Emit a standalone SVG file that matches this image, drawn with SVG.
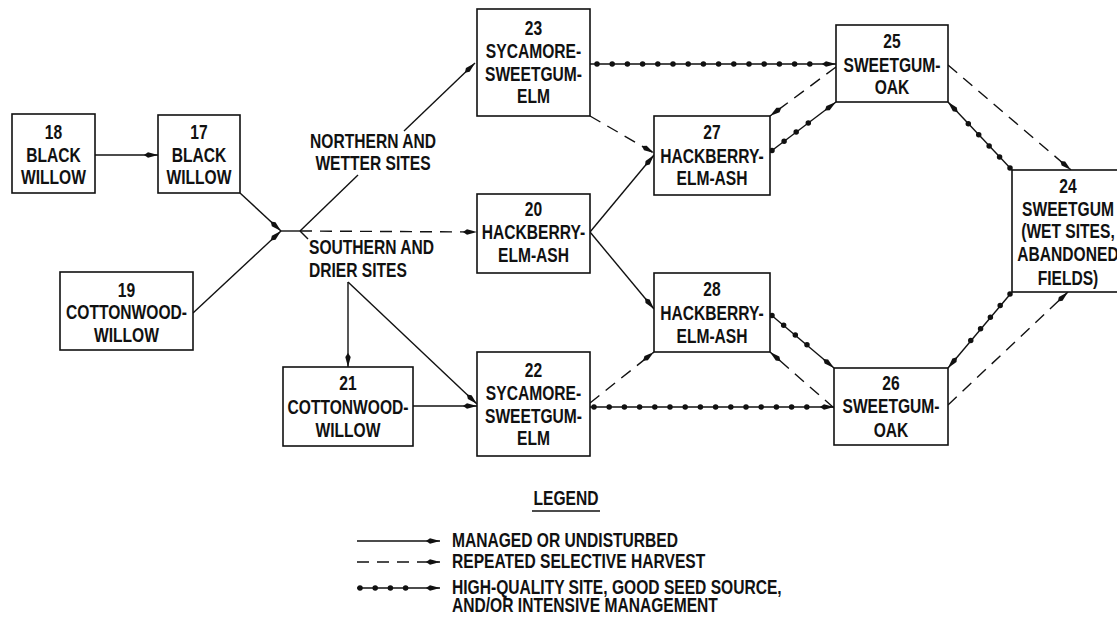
<svg xmlns="http://www.w3.org/2000/svg" width="1117" height="637" viewBox="0 0 1117 637">
<style>
.box{fill:#fff;stroke:#111;stroke-width:1.6}
.t{font-family:"Liberation Sans",Arial,sans-serif;font-weight:bold;font-size:20px;text-anchor:middle;fill:#111}
.l{text-anchor:start}
.ln{stroke:#111;stroke-width:1.4;fill:none}
.da{stroke-dasharray:12 8}
.dots{stroke:#111;stroke-width:5.5;stroke-linecap:round;stroke-dasharray:0 15.2;fill:none}
</style>
<defs>
<marker id="ah" markerWidth="15" markerHeight="8" refX="14" refY="4" orient="auto" markerUnits="userSpaceOnUse">
<path d="M0,4 L4,1.3 L14,4 L4,6.7 Z" fill="#111"/>
</marker>
</defs>
<rect width="1117" height="637" fill="#fff"/>
<g id="connectors">
<path class="ln" d="M95,155 H158" marker-end="url(#ah)"/>
<path class="ln" d="M240,193 L281,231" marker-end="url(#ah)"/>
<path class="ln" d="M193,313 L281,231" marker-end="url(#ah)"/>
<path class="ln" d="M281,231 H300"/>
<path class="ln da" d="M300,231 L477,232" marker-end="url(#ah)"/>
<path class="ln" d="M300,231 L358,175"/>
<path class="ln" d="M404,131 L475,63" marker-end="url(#ah)"/>
<path class="ln" d="M300,231 L308,239"/>
<path class="ln" d="M348,282 V367" marker-end="url(#ah)"/>
<path class="ln" d="M348,282 L477,404" marker-end="url(#ah)"/>
<path class="ln" d="M413,406 H477" marker-end="url(#ah)"/>
<path class="ln" d="M590,232 L654,155" marker-end="url(#ah)"/>
<path class="ln" d="M590,232 L654,309" marker-end="url(#ah)"/>
<path class="ln da" d="M590,116 L654,153" marker-end="url(#ah)"/>
<path class="ln da" d="M836,67 L770,116" marker-end="url(#ah)"/>
<path class="ln da" d="M948,65 L1071,170" marker-end="url(#ah)"/>
<path class="ln da" d="M590,403 L654,352" marker-end="url(#ah)"/>
<path class="ln da" d="M834,408 L770,352" marker-end="url(#ah)"/>
<path class="ln da" d="M948,405 L1068,292" marker-end="url(#ah)"/>
<path class="ln" d="M590,64 H836" marker-end="url(#ah)"/>
<path class="dots" d="M597,64 H812"/>
<path class="ln" d="M770,152 L836,102" marker-end="url(#ah)"/>
<path class="dots" d="M772,150.5 L820,114"/>
<path class="ln" d="M1012,170 L948,102" marker-end="url(#ah)"/>
<path class="dots" d="M1010,168 L961,116"/>
<path class="ln" d="M590,407 H834" marker-end="url(#ah)"/>
<path class="dots" d="M594,407 H812"/>
<path class="ln" d="M770,314 L834,368" marker-end="url(#ah)"/>
<path class="dots" d="M772,315.5 L818,354"/>
<path class="ln" d="M1012,292 L948,368" marker-end="url(#ah)"/>
<path class="dots" d="M1010,294 L961,352"/>
</g>
<g id="n18"><rect class="box" x="12" y="114" width="83" height="79"/><g transform="matrix(0.78,0,0,1,11.77,0)"><text class="t" x="53.5" y="139">18</text><text class="t" x="53.5" y="162">BLACK</text><text class="t" x="53.5" y="184">WILLOW</text></g></g>
<g id="n17"><rect class="box" x="158" y="115" width="82" height="78"/><g transform="matrix(0.78,0,0,1,43.78,0)"><text class="t" x="199" y="139">17</text><text class="t" x="199" y="162">BLACK</text><text class="t" x="199" y="184">WILLOW</text></g></g>
<g id="n19"><rect class="box" x="60" y="272" width="133" height="78"/><g transform="matrix(0.78,0,0,1,27.83,0)"><text class="t" x="126.5" y="297">19</text><text class="t" x="126.5" y="319">COTTONWOOD-</text><text class="t" x="126.5" y="342">WILLOW</text></g></g>
<g id="n23"><rect class="box" x="477" y="9" width="113" height="107"/><g transform="matrix(0.78,0,0,1,117.37,0)"><text class="t" x="533.5" y="35">23</text><text class="t" x="533.5" y="58">SYCAMORE-</text><text class="t" x="533.5" y="81">SWEETGUM-</text><text class="t" x="533.5" y="103">ELM</text></g></g>
<g id="n20"><rect class="box" x="477" y="194" width="113" height="79"/><g transform="matrix(0.78,0,0,1,117.37,0)"><text class="t" x="533.5" y="216">20</text><text class="t" x="533.5" y="239">HACKBERRY-</text><text class="t" x="533.5" y="262">ELM-ASH</text></g></g>
<g id="n21"><rect class="box" x="283" y="367" width="130" height="79"/><g transform="matrix(0.78,0,0,1,76.56,0)"><text class="t" x="348" y="390">21</text><text class="t" x="348" y="414">COTTONWOOD-</text><text class="t" x="348" y="437">WILLOW</text></g></g>
<g id="n22"><rect class="box" x="477" y="352" width="113" height="104"/><g transform="matrix(0.78,0,0,1,117.37,0)"><text class="t" x="533.5" y="377">22</text><text class="t" x="533.5" y="400">SYCAMORE-</text><text class="t" x="533.5" y="423">SWEETGUM-</text><text class="t" x="533.5" y="445">ELM</text></g></g>
<g id="n27"><rect class="box" x="654" y="116" width="116" height="79"/><g transform="matrix(0.78,0,0,1,156.64,0)"><text class="t" x="712" y="139">27</text><text class="t" x="712" y="163">HACKBERRY-</text><text class="t" x="712" y="185">ELM-ASH</text></g></g>
<g id="n28"><rect class="box" x="654" y="273" width="116" height="79"/><g transform="matrix(0.78,0,0,1,156.64,0)"><text class="t" x="712" y="296">28</text><text class="t" x="712" y="320">HACKBERRY-</text><text class="t" x="712" y="343">ELM-ASH</text></g></g>
<g id="n25"><rect class="box" x="836" y="25" width="112" height="77"/><g transform="matrix(0.78,0,0,1,196.24,0)"><text class="t" x="892" y="48">25</text><text class="t" x="892" y="72">SWEETGUM-</text><text class="t" x="892" y="94">OAK</text></g></g>
<g id="n26"><rect class="box" x="834" y="368" width="114" height="77"/><g transform="matrix(0.78,0,0,1,196.02,0)"><text class="t" x="891" y="390">26</text><text class="t" x="891" y="413">SWEETGUM-</text><text class="t" x="891" y="437">OAK</text></g></g>
<g id="n24"><rect class="box" x="1012" y="170" width="110" height="122"/><g transform="matrix(0.78,0,0,1,234.96,0)"><text class="t" x="1068" y="193">24</text><text class="t" x="1068" y="216">SWEETGUM</text><text class="t" x="1068" y="238">(WET SITES,</text><text class="t" x="1068" y="261">ABANDONED</text><text class="t" x="1068" y="285">FIELDS)</text></g></g>
<g id="labels">
<g transform="matrix(0.78,0,0,1,82.06,0)"><text class="t" x="373" y="148">NORTHERN AND</text><text class="t" x="373" y="170">WETTER SITES</text></g>
<g transform="matrix(0.78,0,0,1,67.98,0)"><text class="t l" x="309" y="254">SOUTHERN AND</text><text class="t l" x="309" y="277">DRIER SITES</text></g>
</g>
<g id="legend">
<g transform="matrix(0.78,0,0,1,124.52,0)"><text class="t" x="566" y="505">LEGEND</text></g>
<path class="ln" d="M532,511 H600"/>
<path class="ln" d="M357,541 H440" marker-end="url(#ah)"/>
<path class="ln da" d="M357,562 H440" marker-end="url(#ah)"/>
<path class="ln" d="M357,588 H440" marker-end="url(#ah)"/>
<path class="dots" d="M360,588 H416"/>
<g transform="matrix(0.78,0,0,1,99.44,0)">
<text class="t l" x="452" y="547">MANAGED OR UNDISTURBED</text>
<text class="t l" x="452" y="568">REPEATED SELECTIVE  HARVEST</text>
<text class="t l" x="452" y="594">HIGH-QUALITY SITE, GOOD SEED SOURCE,</text>
<text class="t l" x="452" y="612">AND/OR INTENSIVE MANAGEMENT</text>
</g>
</g>
</svg>
